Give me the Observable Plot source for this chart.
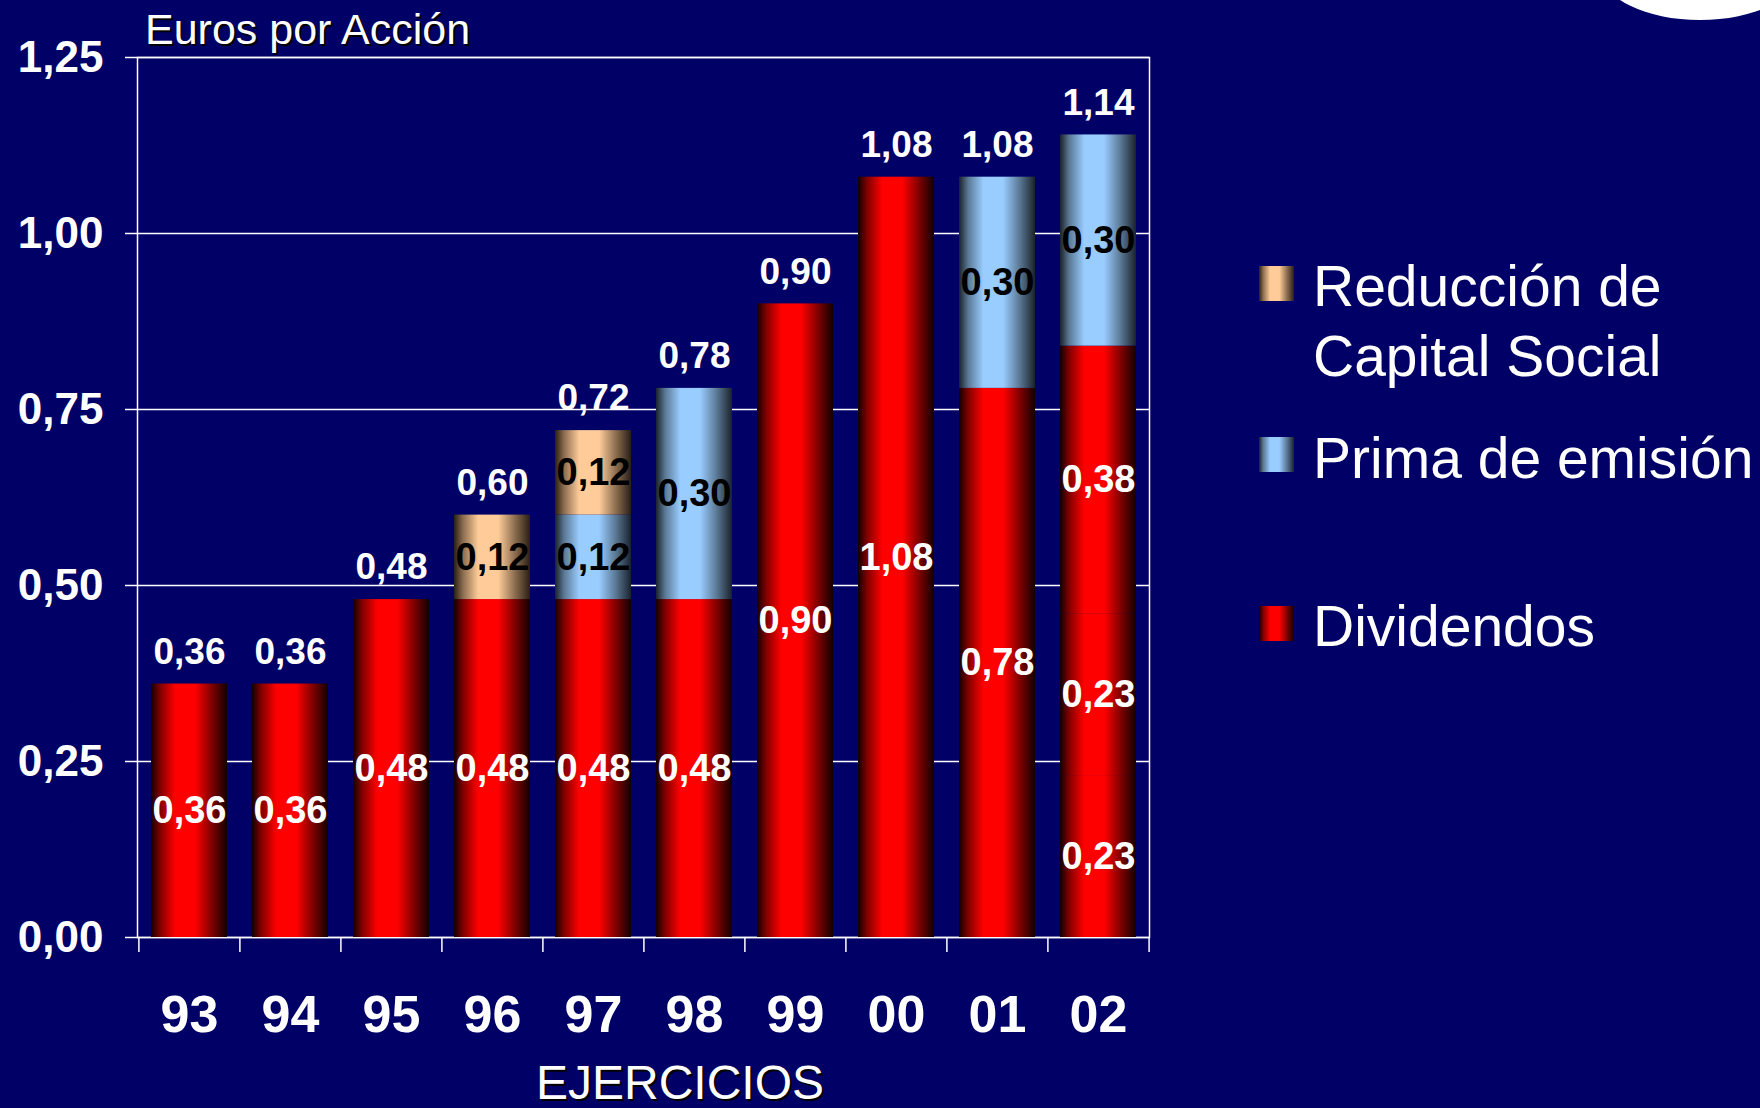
<!DOCTYPE html>
<html><head><meta charset="utf-8">
<script src="https://cdn.jsdelivr.net/npm/d3@7"></script>
<script src="https://cdn.jsdelivr.net/npm/@observablehq/plot@0.6"></script>
<style>
html,body{margin:0;padding:0;background:#000066;overflow:hidden;}
#wrap{position:relative;width:1760px;height:1108px;font-family:"Liberation Sans",Arial,sans-serif;color:#fff;overflow:hidden;}
#wrap svg{position:absolute;left:0;top:0;}
.title{position:absolute;left:145px;top:8px;font-size:43px;line-height:43px;text-shadow:2px 2px 0 #000;white-space:nowrap;}
.xlabel{position:absolute;left:680px;top:1059px;transform:translateX(-50%);font-size:48px;line-height:48px;text-shadow:2px 2px 0 #000;white-space:nowrap;}
.legend{position:absolute;left:1259px;top:0;}
.sw{position:absolute;left:0;width:35px;height:35px;}
.lt{position:absolute;left:54px;font-size:57px;line-height:70px;white-space:nowrap;}
.logo{position:absolute;left:1600px;top:-80px;width:200px;height:100px;border-radius:50%;background:#fff;}
</style></head>
<body><div id="wrap"></div>
<script>
// ---- data ----
const years = ["93","94","95","96","97","98","99","00","01","02"];
const dividendos = [0.36,0.36,0.48,0.48,0.48,0.48,0.90,1.08,0.78,0.84];
const dividendos02Tramos = [0.23,0.23,0.38];
const prima = [0,0,0,0,0.12,0.30,0,0,0.30,0.30];
const reduccion = [0,0,0,0.12,0.12,0,0,0,0,0];
const yTicks = [0,0.25,0.50,0.75,1.00,1.25];
const seriesNames = ["Reducción de Capital Social","Prima de emisión","Dividendos"];
const titleText = "Euros por Acción";
const xTitle = "EJERCICIOS";

const fmt = v => v.toFixed(2).replace(".", ",");

const segments = [];
years.forEach((year, i) => {
  let base = 0;
  const parts = year === "02" ? dividendos02Tramos : [dividendos[i]];
  for (const v of parts) { segments.push({year, serie: "div", y1: base, y2: base + v, v}); base += v; }
  if (prima[i] > 0) { segments.push({year, serie: "prima", y1: base, y2: base + prima[i], v: prima[i]}); base += prima[i]; }
  if (reduccion[i] > 0) { segments.push({year, serie: "red", y1: base, y2: base + reduccion[i], v: reduccion[i]}); base += reduccion[i]; }
});
const totals = years.map((year, i) => ({year, total: dividendos[i] + prima[i] + reduccion[i]}));

const W = 1760, H = 1108, mL = 137, mR = 611, mT = 57, mB = 171;
const step = (W - mL - mR) / years.length;

const chart = Plot.plot({
  width: W, height: H,
  marginLeft: mL, marginRight: mR, marginTop: mT, marginBottom: mB,
  style: {background: "transparent", color: "white", fontFamily: "Liberation Sans, Arial, sans-serif", overflow: "visible"},
  x: {type: "band", domain: years, paddingInner: 0.25, paddingOuter: 0.125},
  y: {domain: [0, 1.25]},
  marks: [
    Plot.gridY(yTicks, {stroke: "white", strokeOpacity: 1, strokeWidth: 1.5}),
    Plot.frame({stroke: "white", strokeWidth: 1.5}),
    Plot.barY(segments.filter(d => d.serie === "div"), {x: "year", y1: "y1", y2: "y2", fill: "url(#gRed)"}),
    Plot.barY(segments.filter(d => d.serie === "prima"), {x: "year", y1: "y1", y2: "y2", fill: "url(#gBlue)"}),
    Plot.barY(segments.filter(d => d.serie === "red"), {x: "year", y1: "y1", y2: "y2", fill: "url(#gTan)"}),
    Plot.text(segments.filter(d => d.serie === "div"), {x: "year", y: d => (d.y1 + d.y2) / 2, text: d => fmt(d.v), fill: "white", fontSize: 38, fontWeight: "bold"}),
    Plot.text(segments.filter(d => d.serie !== "div"), {x: "year", y: d => (d.y1 + d.y2) / 2, text: d => fmt(d.v), fill: "black", fontSize: 38, fontWeight: "bold"}),
    Plot.text(totals, {x: "year", y: "total", text: d => fmt(d.total), dy: -32, fill: "white", fontSize: 37, fontWeight: "bold"}),
    Plot.axisY(yTicks, {tickFormat: fmt, tickSize: 12, tickPadding: 22, fontSize: 44, fontWeight: "bold", strokeWidth: 1.5, label: null}),
    Plot.axisX({tickSize: 0, tickPadding: 58, fontSize: 52, fontWeight: "bold", label: null}),
    Plot.axisX(years, {tickSize: 15, tickFormat: () => "", dx: -step / 2, strokeWidth: 1.5, label: null}),
    Plot.axisX([years[years.length - 1]], {tickSize: 15, tickFormat: () => "", dx: step / 2, strokeWidth: 1.5, label: null})
  ]
});

// gradients
const defs = d3.select(chart).insert("defs", ":first-child");
function grad(id, dark, mid, light) {
  const g = defs.append("linearGradient").attr("id", id).attr("x1", "0").attr("x2", "1").attr("y1", "0").attr("y2", "0");
  [[0, dark], [0.12, mid], [0.32, light], [0.58, light], [0.8, mid], [1, dark]].forEach(([o, c]) =>
    g.append("stop").attr("offset", o).attr("stop-color", c));
}
grad("gRed", "#120000", "#800000", "#ff0000");
grad("gBlue", "#1a222c", "#5a7894", "#99ccff");
grad("gTan", "#2a1f14", "#8c6e50", "#ffcc99");

const wrap = document.getElementById("wrap");
wrap.appendChild(chart);

const logo = document.createElement("div"); logo.className = "logo"; wrap.appendChild(logo);

const t = document.createElement("div"); t.className = "title"; t.textContent = titleText; wrap.appendChild(t);
const xl = document.createElement("div"); xl.className = "xlabel"; xl.textContent = xTitle; wrap.appendChild(xl);

const legend = document.createElement("div"); legend.className = "legend"; wrap.appendChild(legend);
const legendItems = [
  {lines: ["Reducción de", "Capital Social"], grad: "linear-gradient(to right,#2a1f14,#8c6e50 12%,#ffcc99 32%,#ffcc99 58%,#8c6e50 80%,#2a1f14)", sw: 266, top: 251},
  {lines: [seriesNames[1]], grad: "linear-gradient(to right,#1a222c,#5a7894 12%,#99ccff 32%,#99ccff 58%,#5a7894 80%,#1a222c)", sw: 437, top: 423},
  {lines: [seriesNames[2]], grad: "linear-gradient(to right,#120000,#800000 12%,#ff0000 32%,#ff0000 58%,#800000 80%,#120000)", sw: 606, top: 591}
];
for (const it of legendItems) {
  const s = document.createElement("div"); s.className = "sw"; s.style.top = it.sw + "px"; s.style.background = it.grad; legend.appendChild(s);
  const l = document.createElement("div"); l.className = "lt"; l.style.top = it.top + "px"; l.innerHTML = it.lines.join("<br>"); legend.appendChild(l);
}
</script>
</body></html>
